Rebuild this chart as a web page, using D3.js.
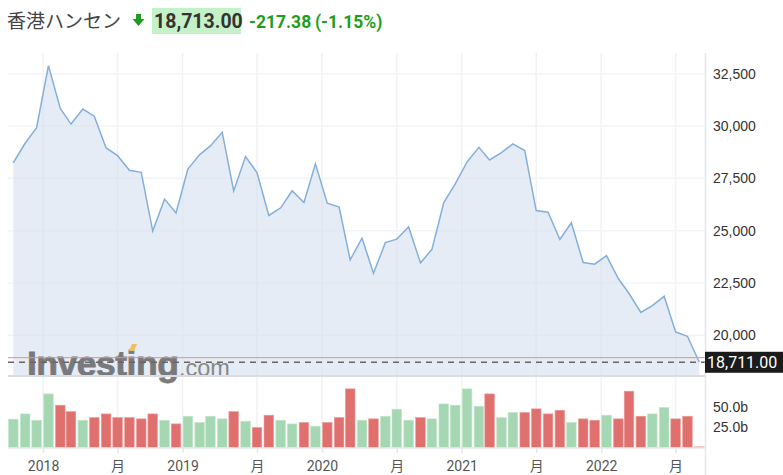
<!DOCTYPE html>
<html><head><meta charset="utf-8">
<script src="https://cdn.jsdelivr.net/npm/d3@7"></script>
<style>
html,body{margin:0;padding:0;background:#fff;}
svg{display:block;font-family:Roboto,"Liberation Sans","Noto Sans CJK JP",sans-serif;}
</style></head>
<body><svg id="c" width="783" height="475"></svg>
<script>
// ---- data ----
const months = ["2017-10","2017-11","2017-12","2018-01","2018-02","2018-03","2018-04","2018-05","2018-06","2018-07","2018-08","2018-09","2018-10","2018-11","2018-12","2019-01","2019-02","2019-03","2019-04","2019-05","2019-06","2019-07","2019-08","2019-09","2019-10","2019-11","2019-12","2020-01","2020-02","2020-03","2020-04","2020-05","2020-06","2020-07","2020-08","2020-09","2020-10","2020-11","2020-12","2021-01","2021-02","2021-03","2021-04","2021-05","2021-06","2021-07","2021-08","2021-09","2021-10","2021-11","2021-12","2022-01","2022-02","2022-03","2022-04","2022-05","2022-06","2022-07","2022-08","2022-09"];
const closes = [28245,29177,29919,32887,30845,30093,30808,30469,28955,28583,27889,27789,24979,26506,25845,27942,28633,29051,29699,26901,28543,27778,25725,26092,26907,26346,28190,26313,26130,23603,24644,22961,24427,24595,25177,23459,24107,26341,27231,28284,28980,28378,28725,29151,28828,25961,25879,24576,25377,23475,23398,23802,22713,21997,21089,21415,21860,20157,19954,18711];
const volumes = [35.4,42,34.1,67,52.9,45,34.1,37.5,42,37.5,37.5,35.8,42,34.1,29.5,39.1,31.3,39.1,35.8,45,32.9,25,40.4,34.1,29.5,31.3,26.7,31.3,37.5,73.3,34.1,35.8,39.1,47.9,34.1,37.5,35.8,54.5,52.9,73.3,51.6,67,37.5,43.8,43.8,48.3,42,46.6,31.3,35.8,34.1,40.4,35.8,70.4,39.1,42,50,35.8,39.1,0.8];
const priceTicks = [20000,22500,25000,27500,30000,32500];
const volumeTicks = [25,50];
const xTickDates = ["2018-01-01","2018-07-15","2019-01-01","2019-07-15","2020-01-01","2020-07-15","2021-01-01","2021-07-15","2022-01-01","2022-07-15"];
const xTickLabels = ["2018","月","2019","月","2020","月","2021","月","2022","月"];
const title = "香港ハンセン";
const lastPrice = "18,713.00";
const change = "-217.38";
const changePct = "(-1.15%)";
const currentValue = 18711;
const prevClose = 18930.38;
const firstPrevClose = 27554;

// ---- layout ----
const svg = d3.select("#c");
const L = 8, R = 705, pTop = 53, pBot = 375.5, vBot = 447.5;
const parseM = d3.timeParse("%Y-%m-%d");
const dates = months.map(m => parseM(m + "-15"));
const x = d3.scaleTime().domain([dates[0], dates[dates.length-1]]).range([13.3, 699.3]);
const y = d3.scaleLinear().domain([20000, 32500]).range([335.3, 73.7]);
const yv = d3.scaleLinear().domain([0, 50]).range([vBot, vBot - 40]);
const tickDates = xTickDates.map(parseM);

// gridlines
const grid = svg.append("g");
grid.selectAll("line.v").data(tickDates).join("line")
  .attr("x1", d => x(d)).attr("x2", d => x(d)).attr("y1", pTop).attr("y2", vBot)
  .attr("stroke", "#f0f2f6").attr("stroke-width", 1.5);
grid.selectAll("line.h").data(priceTicks).join("line")
  .attr("x1", L).attr("x2", R).attr("y1", d => y(d)).attr("y2", d => y(d))
  .attr("stroke", "#f2f4f7").attr("stroke-width", 1.5);

// area + line
const pts = dates.map((d, i) => ({d, v: closes[i]}));
svg.append("path").datum(pts)
  .attr("d", d3.area().x(p => x(p.d)).y0(pBot).y1(p => y(p.v)))
  .attr("fill", "#d5e0ee").attr("fill-opacity", 0.6);
svg.append("path").datum(pts)
  .attr("d", d3.line().x(p => x(p.d)).y(p => y(p.v)))
  .attr("fill", "none").attr("stroke", "#85afdb").attr("stroke-width", 1.5);

// watermark
const wm = svg.append("g").attr("opacity", 0.85);
wm.append("text").attr("x", 27).attr("y", 375.5).text("Investing")
  .attr("font-family", "'Liberation Sans',Arial,sans-serif").attr("font-weight", "bold")
  .attr("font-size", 35.5).attr("letter-spacing", -0.5).attr("fill", "#666")
  .attr("stroke", "#666").attr("stroke-width", 0.8);
wm.append("text").attr("x", 179).attr("y", 375.5).text(".com")
  .attr("font-family", "'Liberation Sans',Arial,sans-serif")
  .attr("font-size", 23.5).attr("fill", "#777");
wm.append("path").attr("d", "M129,351 L132,344 L137,344 L134,351 Z").attr("fill", "#f2b84b");

// prev close & current lines
svg.append("line").attr("x1", L).attr("x2", R).attr("y1", y(prevClose)).attr("y2", y(prevClose))
  .attr("stroke", "#ef8a8a").attr("stroke-width", 1);
svg.append("line").attr("x1", L).attr("x2", R).attr("y1", y(currentValue)).attr("y2", y(currentValue))
  .attr("stroke", "#666").attr("stroke-width", 1.5).attr("stroke-dasharray", "6,5");

// pane separator
svg.append("line").attr("x1", L).attr("x2", R).attr("y1", pBot + 0.5).attr("y2", pBot + 0.5)
  .attr("stroke", "#d9dde3").attr("stroke-width", 2);

// volume bars
const bw = 9.6;
const isUp = i => closes[i] >= (i ? closes[i-1] : firstPrevClose);
svg.append("g").selectAll("rect").data(volumes).join("rect")
  .attr("x", (v, i) => x(dates[i]) - bw/2).attr("width", bw)
  .attr("y", v => yv(v)).attr("height", v => vBot - yv(v))
  .attr("fill", (v, i) => isUp(i) ? "#a5d7b3" : "#e0706e")
  .attr("stroke", (v, i) => isUp(i) ? "#c4e6cc" : "#ec9d9b")
  .attr("stroke-width", 0.6);

// bottom axis
const xa = svg.append("g").attr("transform", `translate(0,${vBot + 0.5})`)
  .call(d3.axisBottom(x).tickValues(tickDates).tickFormat((d, i) => xTickLabels[i]).tickSize(5).tickSizeOuter(0));
xa.select(".domain").attr("d", `M${L},0H${R}`).attr("stroke", "#e3e6eb").attr("stroke-width", 1.5);
xa.selectAll(".tick line").attr("stroke", "#e3e6eb").attr("stroke-width", 1.5);
xa.selectAll(".tick text").attr("fill", "#555").attr("font-size", 14).attr("dy", "1.05em")
  .attr("font-family", "Roboto,'Noto Sans CJK JP',sans-serif");

// right axis line
svg.append("line").attr("x1", R + 0.5).attr("x2", R + 0.5).attr("y1", pTop).attr("y2", 475)
  .attr("stroke", "#e3e6eb").attr("stroke-width", 1.5);

// price axis labels
const ya = svg.append("g").attr("transform", `translate(${R},0)`)
  .call(d3.axisRight(y).tickValues(priceTicks).tickFormat(d3.format(",")).tickSize(0).tickPadding(8));
ya.select(".domain").remove();
ya.selectAll(".tick text").attr("fill", "#333").attr("font-size", 14);

const va = svg.append("g").attr("transform", `translate(${R},0)`)
  .call(d3.axisRight(yv).tickValues(volumeTicks).tickFormat(d => d3.format(".1f")(d) + "b").tickSize(0).tickPadding(8));
va.select(".domain").remove();
va.selectAll(".tick text").attr("fill", "#333").attr("font-size", 14);

// current price label
svg.append("rect").attr("x", R).attr("y", y(currentValue) - 10.5).attr("width", 783 - R).attr("height", 21)
  .attr("fill", "#1b1b1b");
svg.append("text").attr("x", R + 2).attr("y", y(currentValue) + 6).text(d3.format(",.2f")(currentValue))
  .attr("fill", "#fff").attr("font-size", 16);

// header
svg.append("text").attr("x", 7).attr("y", 28).text(title)
  .attr("font-family", "'Noto Sans CJK JP',sans-serif").attr("font-size", 19).attr("fill", "#444");
svg.append("path").attr("d", "M136,14 H141 V19 H144.5 L138.5,26 L132.5,19 H136 Z").attr("fill", "#1f9c1f");
svg.append("rect").attr("x", 152).attr("y", 8).attr("width", 89).attr("height", 26).attr("fill", "#c4f1c7");
svg.append("text").attr("x", 154).attr("y", 28).text(lastPrice)
  .attr("font-weight", "bold").attr("font-size", 19.5).attr("fill", "#333");
svg.append("text").attr("x", 249).attr("y", 27.5).text(change)
  .attr("font-weight", "bold").attr("font-size", 17.5).attr("fill", "#1e9e1e");
svg.append("text").attr("x", 315).attr("y", 27.5).text(changePct)
  .attr("font-weight", "bold").attr("font-size", 17.5).attr("fill", "#1e9e1e");
</script></body></html>
